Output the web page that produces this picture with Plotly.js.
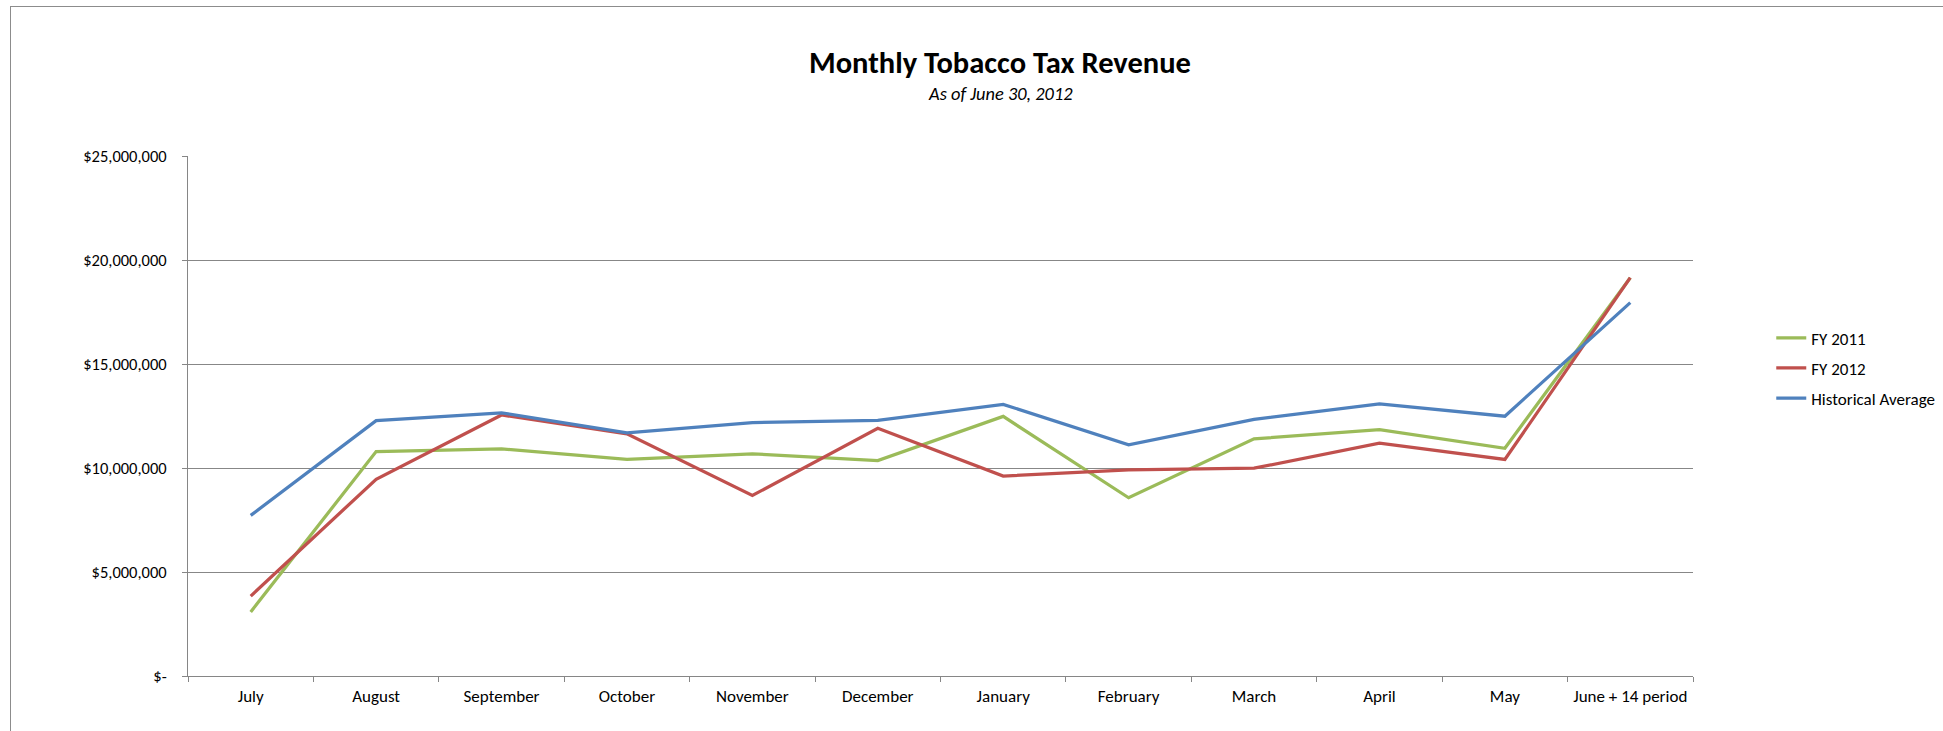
<!DOCTYPE html>
<html>
<head>
<meta charset="utf-8">
<script src="https://cdn.plot.ly/plotly-3.0.1.min.js"></script>
<style>
  html, body { margin: 0; padding: 0; background: #ffffff; }
  #chart { width: 1943px; height: 731px; position: relative; }
  #frame { position: absolute; left: 10px; top: 6px; width: 2000px; height: 800px;
           border-left: 1.5px solid #8c8c8c; border-top: 1.5px solid #8c8c8c; pointer-events: none; }
</style>
</head>
<body>
<div id="chart"></div>
<div id="frame"></div>
<script>
const categories = ['July', 'August', 'September', 'October', 'November', 'December',
  'January', 'February', 'March', 'April', 'May', 'June + 14 period'];
const fy2011 = [3080000, 10790000, 10920000, 10420000, 10680000, 10360000,
  12480000, 8570000, 11400000, 11850000, 10950000, 19150000];
const fy2012 = [3840000, 9460000, 12550000, 11640000, 8680000, 11910000,
  9610000, 9910000, 9990000, 11190000, 10410000, 19150000];
const historicalAverage = [7720000, 12280000, 12650000, 11690000, 12180000, 12290000,
  13060000, 11110000, 12340000, 13080000, 12490000, 17950000];
const yTickVals = [0, 5000000, 10000000, 15000000, 20000000, 25000000];
const yTickText = ['$-', '$5,000,000', '$10,000,000', '$15,000,000', '$20,000,000', '$25,000,000'];

const FONT = "Calibri, Carlito, 'Liberation Sans', Arial, sans-serif";

const traces = [
  { name: 'FY 2011', x: categories, y: fy2011, type: 'scatter', mode: 'lines',
    line: { color: '#9BBB59', width: 3.25 }, legendgroup: 'a' },
  { name: 'FY 2012', x: categories, y: fy2012, type: 'scatter', mode: 'lines',
    line: { color: '#C0504D', width: 3.25 }, legendgroup: 'b' },
  { name: 'Historical Average', x: categories, y: historicalAverage, type: 'scatter', mode: 'lines',
    line: { color: '#4F81BD', width: 3.25 }, legendgroup: 'c' }
];

const layout = {
  width: 1943, height: 731,
  paper_bgcolor: '#ffffff', plot_bgcolor: '#ffffff',
  margin: { l: 188, r: 250, t: 156, b: 55, pad: 0, autoexpand: false },
  font: { family: FONT, color: '#000000', size: 16 },
  title: {
    text: '<b>Monthly Tobacco Tax Revenue</b>',
    font: { family: FONT, size: 30.5, color: '#000000' },
    x: 1000 / 1943, xref: 'container', xanchor: 'center',
    y: 1 - 62 / 731, yref: 'container', yanchor: 'middle'
  },
  annotations: [{
    text: '<i>As of June 30, 2012</i>', showarrow: false,
    xref: 'paper', yref: 'paper', x: (1000 - 188) / 1505, y: (676 - 93) / 520,
    xanchor: 'center', yanchor: 'middle',
    font: { family: FONT, size: 18.4, color: '#000000' }
  }],
  xaxis: {
    type: 'category', range: [-0.5, 11.5], automargin: false,
    showgrid: false, showline: true, linecolor: '#868686', linewidth: 1,
    ticks: 'outside', tickson: 'boundaries', ticklen: 5, tickcolor: '#868686',
    ticklabelstandoff: 5,
    tickfont: { family: FONT, size: 17, color: '#000000' },
    fixedrange: true
  },
  yaxis: {
    range: [0, 25000000], tickvals: yTickVals, ticktext: yTickText, automargin: false,
    showgrid: true, gridcolor: '#878787', gridwidth: 1,
    zeroline: false, showline: true, linecolor: '#868686', linewidth: 1,
    ticks: 'outside', ticklen: 5, tickcolor: '#868686',
    ticklabelstandoff: 12,
    tickfont: { family: FONT, size: 16.5, color: '#000000' },
    fixedrange: true
  },
  showlegend: true,
  legend: {
    x: 1.052, xanchor: 'left', y: 0.684, yanchor: 'top',
    traceorder: 'grouped', tracegroupgap: 5,
    font: { family: FONT, size: 17, color: '#000000' },
    bgcolor: 'rgba(0,0,0,0)', borderwidth: 0
  }
};

Plotly.newPlot('chart', traces, layout, { displayModeBar: false, staticPlot: true });
</script>
</body>
</html>
